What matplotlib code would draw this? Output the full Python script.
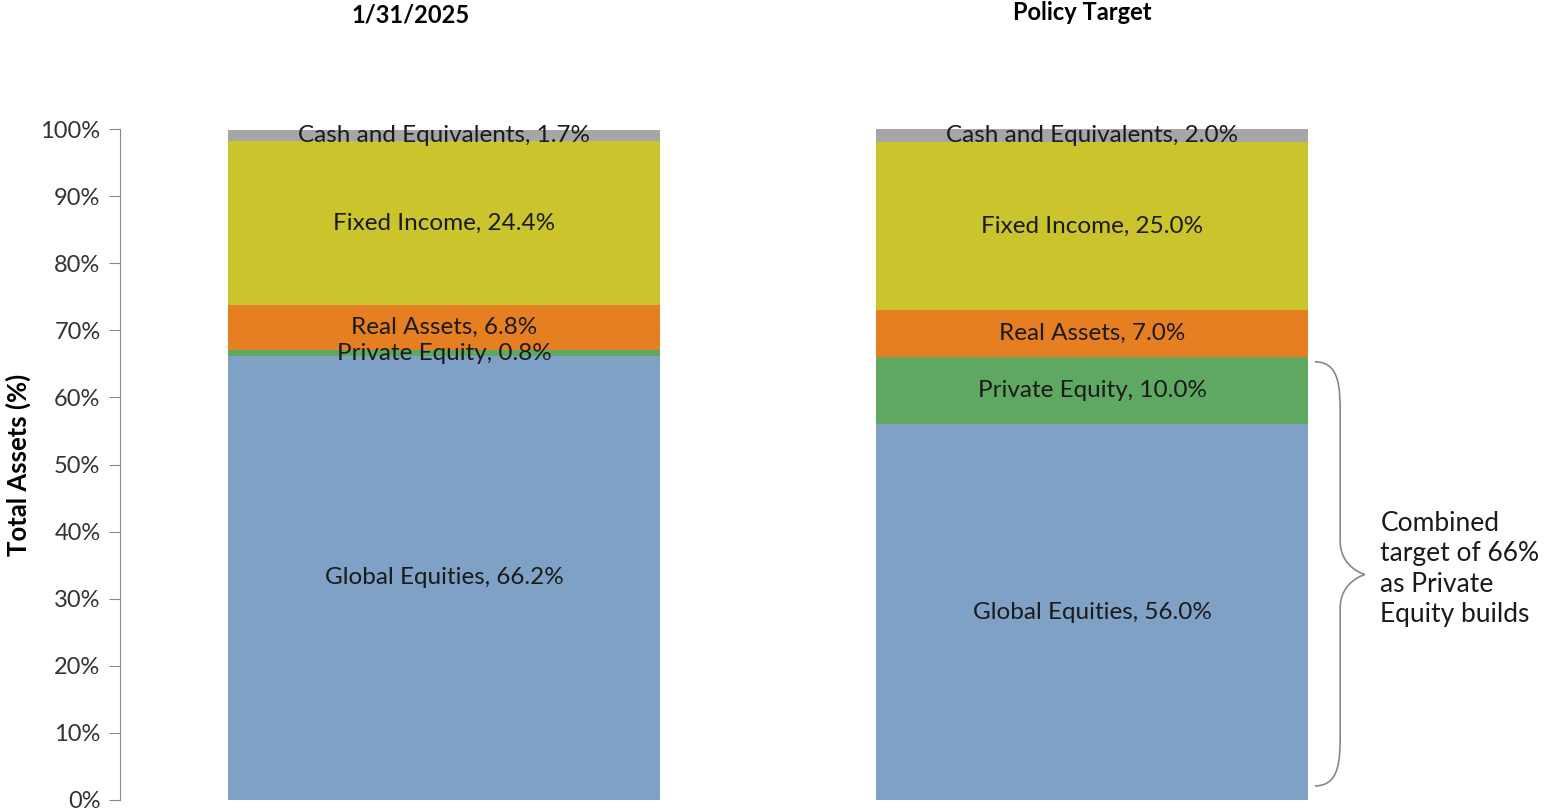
import matplotlib.pyplot as plt
import numpy as np
from matplotlib.path import Path
from matplotlib.patches import PathPatch

plt.rcParams['font.family'] = ['Lato', 'DejaVu Sans']

columns = ['1/31/2025', 'Policy Target']
categories = ['Global Equities', 'Private Equity', 'Real Assets', 'Fixed Income', 'Cash and Equivalents']
current = [66.2, 0.8, 6.8, 24.4, 1.7]
target = [56.0, 10.0, 7.0, 25.0, 2.0]
colors = ['#7fa1c5', '#5fa862', '#e67e22', '#cbc42c', '#a6a6a8']
note = 'Combined\ntarget of 66%\nas Private\nEquity builds'

fig = plt.figure(figsize=(15.47, 8.10), dpi=100)
ax = fig.add_axes([120 / 1547, 10 / 810, 1296 / 1547, 671 / 810])

x = np.arange(len(columns))
data = np.array([current, target])
bottom = np.zeros(len(columns))
for i, cat in enumerate(categories):
    vals = data[:, i]
    ax.bar(x, vals, width=0.667, bottom=bottom, color=colors[i], edgecolor='none')
    for j in range(len(columns)):
        ax.text(x[j], bottom[j] + vals[j] / 2, f'{cat}, {vals[j]:.1f}%',
                ha='center', va='center', fontsize=17.5, color='#1a1a1a')
    bottom += vals

ax.set_xlim(-0.5, 1.5)
ax.set_ylim(0, 100)
ax.set_yticks(np.arange(0, 101, 10))
ax.set_yticklabels([f'{v}%' for v in range(0, 101, 10)], fontsize=17, color='#333333')
ax.set_xticks([])
for s in ['top', 'right', 'bottom']:
    ax.spines[s].set_visible(False)
ax.spines['left'].set_color('#888888')
ax.tick_params(axis='y', direction='out', length=8, color='#888888', pad=6)
ax.set_ylabel('Total Assets (%)', fontsize=18.5, fontweight='bold', labelpad=7)

# column titles
fig.text(411 / 1547, 1 - 15 / 810, columns[0], ha='center', va='center', fontsize=17, fontweight='bold')
fig.text(1082 / 1547, 1 - 13 / 810, columns[1], ha='center', va='center', fontsize=17, fontweight='bold')

# brace next to policy target private equity + global equities
y_top, y_bot = 65.3, 2.1
y_mid = 33.6
x0, x1, x2 = 1.344, 1.383, 1.421
verts = [(x0, y_top), (x1, y_top), (x1, y_top - 4), (x1, y_top - 8),
         (x1, y_mid + 5),
         (x1, y_mid + 1), (x2, y_mid), (x2, y_mid),
         (x2, y_mid), (x1, y_mid - 1), (x1, y_mid - 5),
         (x1, y_bot + 8),
         (x1, y_bot + 4), (x1, y_bot), (x0, y_bot)]
codes = [Path.MOVETO, Path.CURVE4, Path.CURVE4, Path.CURVE4,
         Path.LINETO,
         Path.CURVE4, Path.CURVE4, Path.CURVE4,
         Path.CURVE4, Path.CURVE4, Path.CURVE4,
         Path.LINETO,
         Path.CURVE4, Path.CURVE4, Path.CURVE4]
ax.add_patch(PathPatch(Path(verts, codes), facecolor='none', edgecolor='#888888',
                       lw=1.2, clip_on=False))
ax.text(1.445, y_mid + 0.8, note, ha='left', va='center', fontsize=19,
        color='#1a1a1a', linespacing=1.27, clip_on=False)

fig.savefig('out.png', dpi=100)
